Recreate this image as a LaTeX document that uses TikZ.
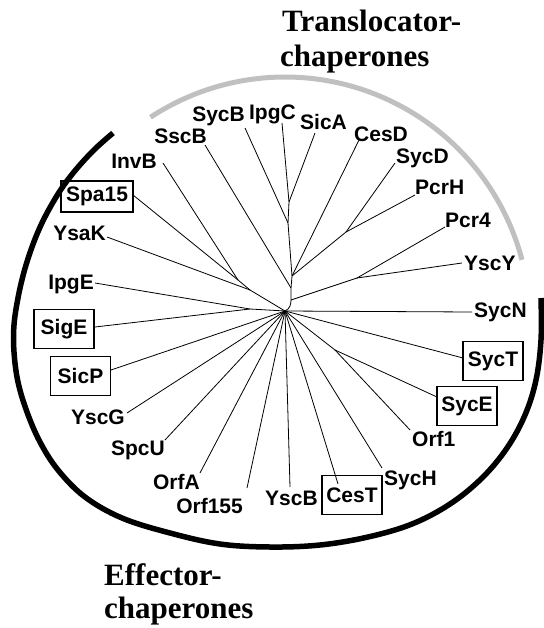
\documentclass[tikz,border=0pt]{standalone}
\usepackage{fontspec}
\newfontfamily\labfont{Liberation Sans}
\newfontfamily\titlefont{Liberation Serif}
\definecolor{greyarc}{RGB}{192,192,192}
\begin{document}
\begin{tikzpicture}[x=1pt,y=-1pt,
  lab/.style={font=\labfont\bfseries\fontsize{21}{22}\selectfont, inner sep=0pt, anchor=base west},
  labr/.style={lab, anchor=base east},
  boxlab/.style={font=\labfont\bfseries\fontsize{21}{22}\selectfont, draw, line width=1.2pt, inner sep=0pt, minimum width=60pt, minimum height=39pt},
  branch/.style={line width=0.8pt},
  ttl/.style={font=\titlefont\bfseries\fontsize{31}{35}\selectfont, inner sep=0pt, anchor=base west},
  blackarc/.style={line width=5.5pt, black},
  greyline/.style={line width=5pt, greyarc}]
\useasboundingbox (0,0) rectangle (543,628);

% titles
\node[ttl] (tl1) at (282,32) {Translocator-};
\node[ttl] (tl2) at (280,67) {chaperones};
\node[ttl] (ef1) at (104,585) {Effector-};
\node[ttl] (ef2) at (104,618) {chaperones};

% group arcs
\draw[greyline] plot[domain=14.7:123.3, samples=90] ({285+245*cos(\x)},{322-245*sin(\x)});
\draw[blackarc] plot[smooth, tension=0.6] coordinates {(113,133) (96,148) (79,166) (64,185) (52,204) (41,225) (32,247) (24,272) (18,298) (14,325) (14,352) (18,382) (27,412) (40,442) (58,470) (85,497) (122,518) (170,533) (220,544) (270,547) (320,545) (368,537) (412,524) (450,504) (482,478) (507,448) (525,415) (536,380) (541,340) (541,298)};

% internal nodes
\coordinate (C) at (285,311);
\coordinate (T0) at (291,300);
\coordinate (T1) at (291,288);
\coordinate (T2) at (292,276);
\coordinate (N2) at (288,223);
\coordinate (N1) at (289,202);
\coordinate (NDH) at (346,232);
\coordinate (NPY) at (357,278);
\coordinate (JIS) at (238,280);
\coordinate (JISY) at (250,290);
\coordinate (JIG) at (250,309);
\coordinate (JEO) at (335,350);

% leaf ends
\coordinate (eSscB) at (205,145);
\coordinate (eSycB) at (245,128);
\coordinate (eIpgC) at (282,123);
\coordinate (eSicA) at (315,133);
\coordinate (eCesD) at (359,140);
\coordinate (eSycD) at (395,163);
\coordinate (ePcrH) at (415,195);
\coordinate (ePcr4) at (445,227);
\coordinate (eYscY) at (462,263);
\coordinate (eSycN) at (472,312);
\coordinate (eInvB) at (163,163);
\coordinate (eSpa15) at (133,195);
\coordinate (eYsaK) at (107,237);
\coordinate (eIpgE) at (95,283);
\coordinate (eSigE) at (95,327);
\coordinate (eSicP) at (111,370);
\coordinate (eYscG) at (127,413);
\coordinate (eSpcU) at (165,440);
\coordinate (eOrfA) at (200,473);
\coordinate (eOrf155) at (247,488);
\coordinate (eYscB) at (290,487);
\coordinate (eCesT) at (338,484);
\coordinate (eSycH) at (382,468);
\coordinate (eOrf1) at (410,430);
\coordinate (eSycE) at (437,397);
\coordinate (eSycT) at (463,358);

% labels
\node[labr] (SscB) at (207,144) {SscB};
\node[labr] (SycB) at (245,122) {SycB};
\node[labr] (IpgC) at (296,120) {IpgC};
\node[lab] (SicA) at (300,130) {SicA};
\node[lab] (CesD) at (354,142) {CesD};
\node[lab] (SycD) at (396,164) {SycD};
\node[lab] (PcrH) at (415,195) {PcrH};
\node[lab] (Pcr4) at (445,227) {Pcr4};
\node[lab] (YscY) at (464,270) {YscY};
\node[lab] (SycN) at (474,317) {SycN};
\node[labr] (InvB) at (157,169) {InvB};
\node[labr] (YsaK) at (106,240) {YsaK};
\node[labr] (IpgE) at (94,289) {IpgE};
\node[labr] (YscG) at (125,424) {YscG};
\node[labr] (SpcU) at (165,455) {SpcU};
\node[labr] (OrfA) at (200,489) {OrfA};
\node[labr] (Orf155) at (243,513) {Orf155};
\node[lab] (YscB) at (265,505) {YscB};
\node[lab] (SycH) at (384,485) {SycH};
\node[lab] (Orf1) at (412,446) {Orf1};
\node[boxlab, minimum width=72pt, minimum height=31pt] (Spa15) at (97,196.5) {Spa15};
\node[boxlab] (SigE) at (64,329) {SigE};
\node[boxlab] (SicP) at (80.5,376) {SicP};
\node[boxlab] (SycT) at (493,361) {SycT};
\node[boxlab] (SycE) at (467,406) {SycE};
\node[boxlab] (CesT) at (352,495) {CesT};

% branches
\draw[branch] (C) .. controls (290,309) and (291,304) .. (T0);
\draw[branch] (T0) -- (T1) -- (T2) -- (N2) -- (N1);
\draw[branch] (N1) -- (eIpgC);
\draw[branch] (N1) -- (eSicA);
\draw[branch] (N2) -- (eSycB);
\draw[branch] (T2) -- (eCesD);
\draw[branch] (T2) -- (NDH);
\draw[branch] (NDH) -- (eSycD);
\draw[branch] (NDH) -- (ePcrH);
\draw[branch] (T1) -- (eSscB);
\draw[branch] (T0) -- (NPY);
\draw[branch] (NPY) -- (ePcr4);
\draw[branch] (NPY) -- (eYscY);
\draw[branch] (C) -- (eSycN);
\draw[branch] (C) -- (JISY);
\draw[branch] (JISY) -- (JIS);
\draw[branch] (JIS) -- (eInvB);
\draw[branch] (JIS) -- (eSpa15);
\draw[branch] (JISY) -- (eYsaK);
\draw[branch] (C) -- (JIG);
\draw[branch] (JIG) -- (eIpgE);
\draw[branch] (JIG) -- (eSigE);
\draw[branch] (C) -- (eSicP);
\draw[branch] (C) -- (eYscG);
\draw[branch] (C) -- (eSpcU);
\draw[branch] (C) -- (eOrfA);
\draw[branch] (C) -- (eOrf155);
\draw[branch] (C) -- (eYscB);
\draw[branch] (C) -- (eCesT);
\draw[branch] (C) -- (eSycH);
\draw[branch] (C) -- (JEO);
\draw[branch] (JEO) -- (eOrf1);
\draw[branch] (JEO) -- (eSycE);
\draw[branch] (C) -- (eSycT);
\end{tikzpicture}
\end{document}
